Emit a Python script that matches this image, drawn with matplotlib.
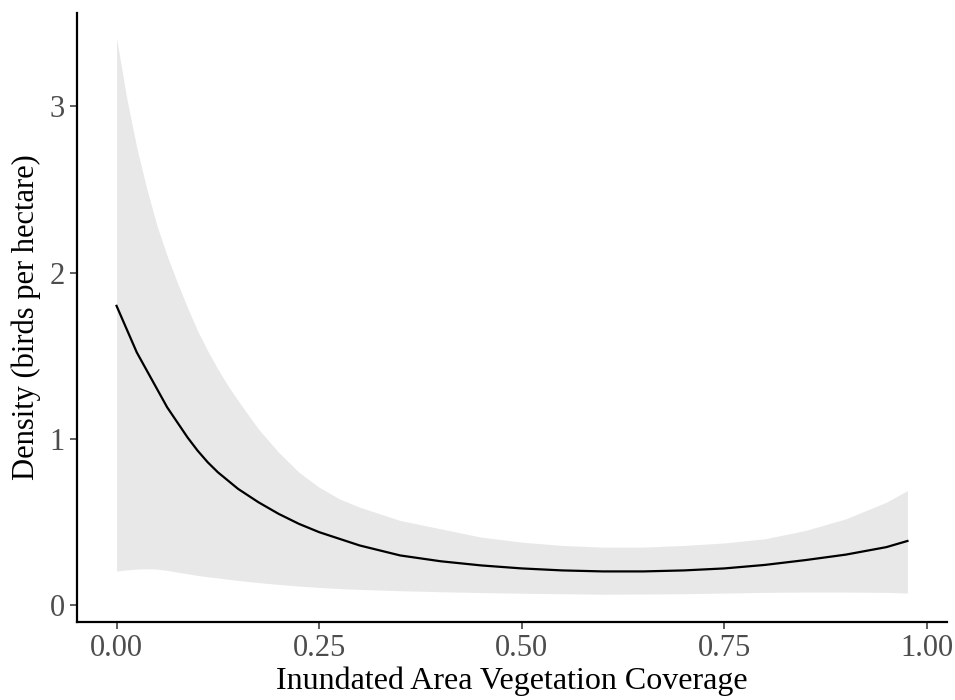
import matplotlib
matplotlib.use("Agg")
import matplotlib.pyplot as plt

# values
coverage = [0.0, 0.0125, 0.025, 0.0375, 0.05, 0.0625, 0.075, 0.0875, 0.1, 0.1125,
            0.125, 0.1375, 0.15, 0.175, 0.2, 0.225, 0.25, 0.275, 0.3, 0.35,
            0.4, 0.45, 0.5, 0.55, 0.6, 0.65, 0.7, 0.75, 0.8, 0.85, 0.9, 0.95, 0.976]
density = [1.80, 1.66, 1.52, 1.41, 1.30, 1.19, 1.10, 1.01, 0.93, 0.86,
           0.80, 0.75, 0.70, 0.62, 0.55, 0.49, 0.44, 0.40, 0.36, 0.30,
           0.265, 0.24, 0.222, 0.21, 0.204, 0.204, 0.21, 0.222, 0.243, 0.272, 0.305, 0.35, 0.387]
upper = [3.41, 3.05, 2.75, 2.50, 2.28, 2.10, 1.94, 1.79, 1.65, 1.53,
         1.42, 1.32, 1.23, 1.06, 0.92, 0.80, 0.71, 0.64, 0.59, 0.51,
         0.46, 0.41, 0.38, 0.36, 0.35, 0.35, 0.36, 0.375, 0.40, 0.45, 0.52, 0.62, 0.69]
lower = [0.206, 0.213, 0.218, 0.22, 0.218, 0.21, 0.20, 0.19, 0.18, 0.172,
         0.165, 0.157, 0.15, 0.137, 0.126, 0.116, 0.108, 0.101, 0.096, 0.088,
         0.082, 0.077, 0.073, 0.07, 0.067, 0.068, 0.07, 0.074, 0.078, 0.08, 0.08, 0.078, 0.074]

xticks = [0.0, 0.25, 0.5, 0.75, 1.0]
xtick_labels = ["0.00", "0.25", "0.50", "0.75", "1.00"]
yticks = [0, 1, 2, 3]

plt.rcParams["font.family"] = ["Liberation Serif", "DejaVu Serif"]

fig = plt.figure(figsize=(9.55, 7.0), dpi=100)
ax = fig.add_axes([77 / 955, (700 - 622) / 700, (947 - 77) / 955, (622 - 13) / 700])

ax.fill_between(coverage, lower, upper, color="#E8E8E8", linewidth=0)
ax.plot(coverage, density, color="black", linewidth=1.6)

ax.set_xlim(-0.0488, 1.0248)
ax.set_ylim(-0.10, 3.56)
ax.set_xticks(xticks)
ax.set_xticklabels(xtick_labels)
ax.set_yticks(yticks)

for side in ["top", "right"]:
    ax.spines[side].set_visible(False)
for side in ["left", "bottom"]:
    ax.spines[side].set_linewidth(1.6)
    ax.spines[side].set_color("black")

ax.tick_params(axis="both", direction="out", length=5, width=1.1, color="#333333",
               labelsize=22, labelcolor="#4D4D4D", pad=4)

ax.set_xlabel("Inundated Area Vegetation Coverage", fontsize=23, color="black", labelpad=2)
ax.set_ylabel("Density (birds per hectare)", fontsize=22, color="black", labelpad=6)

fig.savefig("out.png", dpi=100)
